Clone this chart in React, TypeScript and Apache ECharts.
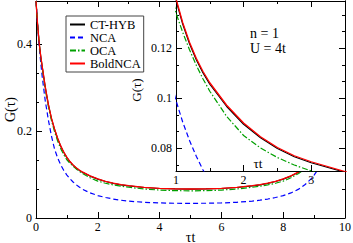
import React, { useEffect, useRef } from "react";
import * as echarts from "echarts";

// ---- data ----
const tau = [
  0, 0.05, 0.1, 0.15, 0.2, 0.3, 0.4, 0.5, 0.6, 0.7, 0.8, 0.9, 1, 1.1, 1.2, 1.3, 1.4, 1.5, 1.75, 2, 2.25, 2.5, 2.75, 3, 3.5, 4, 4.5, 5,
  5.5, 6, 6.5, 7, 7.25, 7.5, 7.75, 8, 8.25, 8.5, 8.6, 8.7, 8.8, 8.9, 9, 9.1, 9.2, 9.3, 9.4, 9.5, 9.6, 9.7, 9.8, 9.85, 9.9, 9.95, 10,
];

const ctHyb = [
  0.5, 0.447, 0.404, 0.374, 0.349, 0.301, 0.261, 0.229, 0.2043, 0.1832, 0.1655, 0.151, 0.1391, 0.1295, 0.1217, 0.1153, 0.11, 0.1055, 0.0966, 0.0895, 0.0841, 0.0798, 0.0765, 0.0741, 0.0703, 0.068, 0.0669, 0.0665,
  0.0669, 0.068, 0.0703, 0.0741, 0.0765, 0.0798, 0.0841, 0.0895, 0.0966, 0.1055, 0.11, 0.1153, 0.1217, 0.1295, 0.1391, 0.151, 0.1655, 0.1832, 0.2043, 0.229, 0.261, 0.301, 0.349, 0.374, 0.404, 0.447, 0.5,
];

const nca = [
  0.5, 0.447, 0.4, 0.36, 0.326, 0.27, 0.226, 0.189, 0.159, 0.1385, 0.1223, 0.1093, 0.099, 0.0903, 0.083, 0.0767, 0.0712, 0.0665, 0.0578, 0.0517, 0.0472, 0.0437, 0.041, 0.0389, 0.0362, 0.0347, 0.034, 0.0338,
  0.034, 0.0347, 0.0362, 0.0389, 0.041, 0.0437, 0.0472, 0.0517, 0.0578, 0.0665, 0.0712, 0.0767, 0.083, 0.0903, 0.099, 0.1093, 0.1223, 0.1385, 0.159, 0.189, 0.226, 0.27, 0.326, 0.36, 0.4, 0.447, 0.5,
];

const oca = [
  0.5, 0.447, 0.403, 0.372, 0.346, 0.297, 0.257, 0.225, 0.199, 0.1775, 0.1598, 0.1457, 0.134, 0.1262, 0.1193, 0.1131, 0.1076, 0.1027, 0.0926, 0.085, 0.08, 0.0762, 0.0732, 0.0708, 0.0668, 0.0643, 0.063, 0.0626,
  0.063, 0.0643, 0.0668, 0.0708, 0.0732, 0.0762, 0.08, 0.085, 0.0926, 0.1027, 0.1076, 0.1131, 0.1193, 0.1262, 0.134, 0.1457, 0.1598, 0.1775, 0.199, 0.225, 0.257, 0.297, 0.346, 0.372, 0.403, 0.447, 0.5,
];

const boldNca = [
  0.5, 0.448, 0.405, 0.375, 0.35, 0.302, 0.262, 0.23, 0.205, 0.1839, 0.1662, 0.1517, 0.1398, 0.1301, 0.1223, 0.1159, 0.1106, 0.1061, 0.0971, 0.09, 0.0845, 0.0802, 0.0769, 0.0745, 0.0706, 0.0683, 0.0672, 0.0668,
  0.0672, 0.0683, 0.0706, 0.0745, 0.0769, 0.0802, 0.0845, 0.09, 0.0971, 0.1061, 0.1106, 0.1159, 0.1223, 0.1301, 0.1398, 0.1517, 0.1662, 0.1839, 0.205, 0.23, 0.262, 0.302, 0.35, 0.375, 0.405, 0.448, 0.5,
];

const seriesNames = ["CT-HYB", "NCA", "OCA", "BoldNCA"];

// tick values
const mainXTicks = [0, 2, 4, 6, 8, 10];
const mainXMinor = [1, 3, 5, 7, 9];
const mainYTicks = [0, 0.2, 0.4];
const mainYMinor = [0.0667, 0.1333, 0.2667, 0.3333];
const insetXTicks = [1, 2, 3];
const insetXMinor = [1.5, 2.5];
const insetYTicks = [0.08, 0.1, 0.12];
const insetYMinor = [0.0733, 0.0867, 0.0933, 0.1067, 0.1133, 0.1267, 0.1333];

const FONT = "Liberation Serif";

function makeAxis(
  gridIndex: number,
  position: string,
  min: number,
  max: number,
  ticks: number[],
  len: number,
  showLabels: boolean,
  showLine: boolean,
  z: number,
  labelMargin: number
) {
  return {
    type: "value",
    gridIndex,
    position,
    min,
    max,
    z,
    splitLine: { show: false },
    axisLine: { show: showLine, onZero: false, lineStyle: { color: "#000", width: 1 } },
    axisTick: { show: true, inside: true, length: len, customValues: ticks, lineStyle: { color: "#000", width: 1 } },
    axisLabel: {
      show: showLabels,
      customValues: ticks,
      margin: labelMargin,
      color: "#000",
      fontFamily: FONT,
      fontSize: 12,
      formatter: (v: number) => String(+v.toFixed(4)),
    },
  };
}

export default function App() {
  const ref = useRef<HTMLDivElement>(null);
  useEffect(() => {
    if (!ref.current) return;
    const chart = echarts.init(ref.current, undefined, { renderer: "svg" });

    const mainGrid = { left: 36, top: 1, width: 309, height: 217 };
    const insetGrid = { left: 176, top: 1, width: 169, height: 170 };
    const iyMin = 0.0708;
    const iyMax = 0.1388;

    const styles: Record<string, any> = {
      "CT-HYB": { color: "#000000", type: "solid", width: 1.2 },
      NCA: { color: "#0000ff", type: [5, 3], width: 1.2 },
      OCA: { color: "#00a000", type: [6, 2, 1.5, 2], width: 1.2 },
      BoldNCA: { color: "#ff0000", type: "solid", width: 1.3 },
    };
    const dataMap: Record<string, number[]> = { "CT-HYB": ctHyb, NCA: nca, OCA: oca, BoldNCA: boldNca };

    const mkSeries = (name: string, xi: number, yi: number, z: number) => ({
      type: "line",
      name,
      xAxisIndex: xi,
      yAxisIndex: yi,
      data: tau.map((t, i) => [t, dataMap[name][i]]),
      showSymbol: false,
      symbol: "none",
      smooth: false,
      z,
      clip: true,
      lineStyle: styles[name],
      itemStyle: { color: styles[name].color },
      emphasis: { disabled: true },
    });

    const option: any = {
      animation: false,
      backgroundColor: "#ffffff",
      textStyle: { fontFamily: FONT },
      grid: [
        { ...mainGrid, z: 0, outerBoundsMode: "none", containLabel: false },
        { ...mainGrid, z: 0, outerBoundsMode: "none", containLabel: false },
        { ...insetGrid, z: 10, show: true, backgroundColor: "#ffffff", borderWidth: 0, outerBoundsMode: "none", containLabel: false },
        { ...insetGrid, z: 11, outerBoundsMode: "none", containLabel: false },
      ],
      xAxis: [
        {
          ...makeAxis(0, "bottom", 0, 10, mainXTicks, 6, true, true, 0, 3),
          name: "τt",
          nameLocation: "middle",
          nameGap: 12,
          nameMoveOverlap: false,
          nameTextStyle: { color: "#000", fontFamily: FONT, fontSize: 14 },
        },
        makeAxis(0, "top", 0, 10, mainXTicks, 6, false, true, 0, 3),
        makeAxis(1, "bottom", 0, 10, mainXMinor, 3, false, false, 0, 3),
        makeAxis(1, "top", 0, 10, mainXMinor, 3, false, false, 0, 3),
        makeAxis(2, "bottom", 1, 3.5, insetXTicks, 6, true, true, 11, 3),
        makeAxis(2, "top", 1, 3.5, insetXTicks, 6, false, true, 11, 3),
        makeAxis(3, "bottom", 1, 3.5, insetXMinor, 3, false, false, 11, 3),
        makeAxis(3, "top", 1, 3.5, insetXMinor, 3, false, false, 11, 3),
      ],
      yAxis: [
        {
          ...makeAxis(0, "left", 0, 0.5, mainYTicks, 6, true, true, 0, 4),
          name: "G(τ)",
          nameLocation: "middle",
          nameGap: 19,
          nameRotate: 90,
          nameMoveOverlap: false,
          nameTextStyle: { color: "#000", fontFamily: FONT, fontSize: 14 },
        },
        makeAxis(0, "right", 0, 0.5, mainYTicks, 6, false, true, 0, 4),
        makeAxis(1, "left", 0, 0.5, mainYMinor, 3, false, false, 0, 4),
        makeAxis(1, "right", 0, 0.5, mainYMinor, 3, false, false, 0, 4),
        makeAxis(2, "left", iyMin, iyMax, insetYTicks, 6, true, true, 11, 4),
        makeAxis(2, "right", iyMin, iyMax, insetYTicks, 6, false, true, 11, 4),
        makeAxis(3, "left", iyMin, iyMax, insetYMinor, 3, false, false, 11, 4),
        makeAxis(3, "right", iyMin, iyMax, insetYMinor, 3, false, false, 11, 4),
      ],
      legend: {
        data: seriesNames,
        orient: "vertical",
        left: 66,
        top: 16,
        padding: [2, 3, 2, 3],
        itemWidth: 15,
        itemHeight: 8,
        itemGap: 0,
        borderColor: "#444",
        borderWidth: 1,
        backgroundColor: "#ffffff",
        z: 5,
        selectedMode: false,
        itemStyle: { opacity: 0 },
        textStyle: { color: "#000", fontFamily: FONT, fontSize: 12.5, lineHeight: 12.3 },
      },
      graphic: [
        { type: "text", x: 250, y: 33, z: 30, style: { text: "n = 1", fontFamily: FONT, fontSize: 14, fill: "#000", verticalAlign: "middle" } },
        { type: "text", x: 250, y: 48, z: 30, style: { text: "U = 4t", fontFamily: FONT, fontSize: 14, fill: "#000", verticalAlign: "middle" } },
        { type: "text", x: 258, y: 163, z: 30, style: { text: "τt", fontFamily: FONT, fontSize: 13, fill: "#000", align: "center", verticalAlign: "middle" } },
        { type: "text", x: 136, y: 90, rotation: Math.PI / 2, z: 30, style: { text: "G(τ)", fontFamily: FONT, fontSize: 13, fill: "#000", align: "center", verticalAlign: "middle" } },
      ],
      series: [
        ...seriesNames.map((n) => mkSeries(n, 0, 0, 2)),
        ...seriesNames.map((n) => mkSeries(n, 4, 4, 12)),
      ],
    };
    chart.setOption(option);
    return () => chart.dispose();
  }, []);
  return <div ref={ref} style={{ position: "fixed", left: 0, top: 0, width: 353, height: 243 }} />;
}
